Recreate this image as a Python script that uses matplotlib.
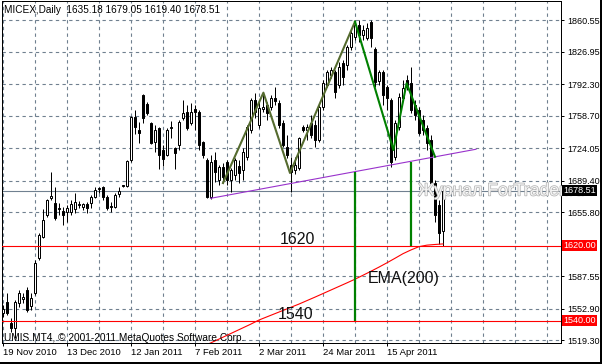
import matplotlib
matplotlib.use("Agg")
import matplotlib.pyplot as plt
import matplotlib.transforms as mtransforms
import matplotlib.patheffects as pe
from matplotlib.patches import Rectangle

plt.rcParams['font.family'] = ['Liberation Sans', 'DejaVu Sans']

# MICEX daily candles, bar 0 = 19 Nov 2010, last bar = 110
opens = [1548.2, 1560.0, 1537.6, 1532.3, 1558.9, 1563.2, 1572.8, 1555.7, 1569.6, 1606.9,
         1629.3, 1652.7, 1670.8, 1665.5, 1659.1, 1657.0, 1655.9, 1655.9, 1659.1, 1663.4,
         1661.2, 1664.4, 1665.5, 1671.9, 1680.4, 1682.6, 1671.9, 1662.3, 1661.2, 1675.1,
         1683.6, 1683.6, 1711.3, 1757.2, 1743.3, 1780.6, 1771.0, 1750.8, 1730.5, 1745.5,
         1722.0, 1716.7, 1745.5, 1724.1, 1727.3, 1756.1, 1762.5, 1750.8, 1765.7, 1762.5,
         1730.5, 1711.3, 1671.9, 1711.3, 1690.0, 1703.9, 1709.2, 1690.0, 1695.3, 1704.9,
         1700.7, 1714.5, 1743.3, 1775.3, 1748.6, 1765.7, 1770.0, 1767.8, 1777.4, 1772.1,
         1750.8, 1725.2, 1706.0, 1700.7, 1702.8, 1746.5, 1743.3, 1750.8, 1748.6, 1732.7,
         1767.8, 1791.3, 1801.9, 1805.1, 1791.3, 1814.7, 1812.6, 1831.8, 1842.5, 1855.3,
         1844.6, 1841.4, 1858.5, 1829.7, 1795.6, 1805.1, 1789.2, 1775.3, 1714.5, 1746.5,
         1777.4, 1796.6, 1793.4, 1770.0, 1764.6, 1754.0, 1745.5, 1732.7, 1686.8, 1663.4,
         1635.18]
highs = [1556.8, 1569.6, 1542.9, 1562.1, 1572.8, 1569.6, 1576.0, 1569.6, 1604.7, 1633.5,
         1659.1, 1669.8, 1698.5, 1682.6, 1665.5, 1661.2, 1663.4, 1668.7, 1676.2, 1667.6,
         1665.5, 1666.6, 1674.0, 1682.6, 1682.6, 1683.6, 1674.0, 1666.6, 1676.2, 1682.6,
         1684.7, 1711.3, 1758.2, 1764.6, 1751.8, 1781.7, 1773.2, 1751.8, 1748.6, 1746.5,
         1727.3, 1745.5, 1752.9, 1725.2, 1754.0, 1775.3, 1770.0, 1772.1, 1770.0, 1764.6,
         1731.6, 1713.5, 1716.7, 1719.9, 1706.0, 1708.1, 1711.3, 1702.8, 1713.5, 1711.3,
         1724.1, 1748.6, 1777.4, 1782.8, 1775.3, 1783.8, 1773.2, 1780.6, 1789.2, 1775.3,
         1754.0, 1738.0, 1714.5, 1714.5, 1735.9, 1748.6, 1749.7, 1759.3, 1754.0, 1770.0,
         1796.6, 1807.3, 1810.5, 1807.3, 1815.8, 1817.9, 1833.9, 1849.9, 1859.5, 1860.6,
         1855.3, 1857.4, 1860.6, 1831.8, 1807.3, 1807.3, 1791.3, 1777.4, 1754.0, 1782.8,
         1796.6, 1801.9, 1810.5, 1775.3, 1767.8, 1759.3, 1748.6, 1738.0, 1690.0, 1668.7,
         1679.05]
lows = [1544.0, 1546.1, 1528.0, 1521.6, 1554.6, 1558.9, 1549.3, 1551.4, 1567.4, 1604.7,
        1628.2, 1650.6, 1668.7, 1647.4, 1652.7, 1642.1, 1645.2, 1652.7, 1654.9, 1660.2,
        1658.0, 1654.9, 1660.2, 1670.8, 1676.2, 1668.7, 1658.0, 1655.9, 1660.2, 1671.9,
        1682.6, 1682.6, 1709.2, 1739.1, 1729.5, 1750.8, 1759.3, 1728.4, 1719.9, 1701.7,
        1704.9, 1715.6, 1734.8, 1701.7, 1722.0, 1754.0, 1743.3, 1748.6, 1743.3, 1722.0,
        1713.5, 1670.8, 1669.8, 1687.9, 1684.7, 1686.8, 1684.7, 1677.2, 1690.0, 1686.8,
        1690.0, 1711.3, 1740.1, 1756.1, 1745.5, 1762.5, 1754.0, 1764.6, 1770.0, 1745.5,
        1725.2, 1713.5, 1677.2, 1696.4, 1700.7, 1741.2, 1732.7, 1734.8, 1725.2, 1730.5,
        1764.6, 1789.2, 1798.8, 1777.4, 1788.1, 1791.3, 1807.3, 1828.6, 1839.3, 1837.1,
        1839.3, 1839.3, 1831.8, 1789.2, 1791.3, 1770.0, 1764.6, 1703.9, 1711.3, 1743.3,
        1775.3, 1786.0, 1761.4, 1754.0, 1738.0, 1738.0, 1722.0, 1684.7, 1645.2, 1621.8,
        1619.40]
closes = [1552.5, 1548.2, 1532.3, 1560.0, 1569.6, 1565.3, 1551.4, 1564.2, 1601.5, 1631.4,
          1647.4, 1668.7, 1673.0, 1649.5, 1660.2, 1652.7, 1660.2, 1664.4, 1666.6, 1664.4,
          1664.4, 1660.2, 1671.9, 1679.4, 1681.5, 1671.9, 1660.2, 1661.2, 1674.0, 1678.3,
          1684.2, 1710.3, 1757.2, 1746.5, 1740.1, 1756.1, 1761.4, 1729.5, 1743.3, 1716.7,
          1712.4, 1743.3, 1746.5, 1718.8, 1751.8, 1761.4, 1745.5, 1762.5, 1762.5, 1727.3,
          1716.7, 1671.9, 1709.2, 1698.5, 1703.9, 1693.2, 1690.0, 1700.7, 1711.3, 1697.5,
          1719.9, 1746.5, 1775.3, 1762.5, 1766.8, 1767.8, 1761.4, 1777.4, 1774.2, 1748.6,
          1727.3, 1716.7, 1698.5, 1706.0, 1734.8, 1743.3, 1746.5, 1738.0, 1732.7, 1767.8,
          1793.4, 1805.1, 1807.3, 1783.8, 1810.5, 1799.8, 1831.8, 1846.7, 1855.3, 1844.6,
          1849.9, 1852.0, 1841.4, 1794.5, 1805.1, 1780.6, 1777.4, 1709.2, 1750.8, 1778.5,
          1788.1, 1789.2, 1764.6, 1759.3, 1740.1, 1743.3, 1729.5, 1686.8, 1652.7, 1633.5,
          1678.51]

# EMA(200), read every 2nd bar
ema_bars = [50, 52, 54, 56, 58, 60, 62, 64, 66, 68, 70, 72, 74, 76, 78, 80,
            82, 84, 86, 88, 90, 92, 94, 96, 98, 100, 102, 104, 106, 108, 110]
ema_vals = [1513.0, 1516.5, 1520.5, 1524.5, 1528.5, 1532.5, 1536.5, 1540.8, 1544.2,
            1547.6, 1551.0, 1554.4, 1557.8, 1561.5, 1565.2, 1569.0, 1572.8, 1576.6,
            1580.4, 1584.3, 1588.5, 1592.8, 1597.2, 1601.8, 1606.6, 1611.5, 1615.5,
            1619.0, 1620.6, 1621.3, 1621.9]

# zigzags, trend line, verticals
olive_x = [55, 65.1, 71.75, 88]
olive_y = [1686.8, 1783.1, 1697.5, 1858.8]
green_x = [88, 97.6, 100.9, 108]
green_y = [1858.8, 1722.0, 1793.1, 1714.8]
trend_x = [51.9, 118.25]
trend_y = [1670.5, 1722.8]
vert_x = [88, 102]
vert_top = [1698.5, 1709.2]
vert_bot = [1540.0, 1620.0]

levels = [1620.0, 1540.0]
last_price = 1678.51

ytick_vals = [1860.55, 1826.95, 1792.30, 1758.70, 1724.05, 1689.40, 1655.80,
              1587.55, 1552.90, 1519.30]
date_pos = [0, 16, 32, 48, 64, 80, 96]
date_labels = ["19 Nov 2010", "13 Dec 2010", "12 Jan 2011", "7 Feb 2011",
               "2 Mar 2011", "24 Mar 2011", "15 Apr 2011"]

W, H = 602, 364
fig = plt.figure(figsize=(W / 100, H / 100), dpi=100)
fig.patch.set_facecolor('white')
ax = fig.add_axes([2 / W, 21 / H, 559 / W, 342 / H])
ax.set_xlim(-0.25, 139.5)
ax.set_ylim(1516.3, 1880.8)

gridc = '#708090'
ax.set_xticks(date_pos)
ax.set_xticks(range(0, 140, 8), minor=True)
ax.set_xticklabels(date_labels)
for lab in ax.get_xticklabels():
    lab.set_ha('left')
ax.tick_params(axis='x', which='major', direction='out', length=2.2, width=0.72,
               labelsize=6.8, pad=1.5)
ax.tick_params(axis='x', which='minor', length=0)
ax.yaxis.tick_right()
ax.set_yticks(ytick_vals)
ax.set_yticklabels(["%.2f" % v for v in ytick_vals])
ax.tick_params(axis='y', direction='out', length=2.2, width=0.72, labelsize=6.5, pad=2)
ax.grid(True, which='both', color=gridc, linestyle=(0, (3, 3)), linewidth=0.8)
ax.set_axisbelow(True)
for s in ax.spines.values():
    s.set_linewidth(0.72)
    s.set_color('black')

ax.axhline(last_price, color=gridc, lw=0.8, zorder=1)

# candles
idx = list(range(len(opens)))
ax.vlines(idx, lows, highs, color='black', lw=0.72, zorder=3)
for i in idx:
    o, c = opens[i], closes[i]
    fc = 'white' if c >= o else 'black'
    h = max(abs(c - o), 0.6)
    ax.bar(i, h, bottom=min(o, c), width=0.55, facecolor=fc, edgecolor='black',
           linewidth=0.72, zorder=4)

ax.plot(ema_bars, ema_vals, color='red', lw=0.8, zorder=5)
for lv in levels:
    ax.axhline(lv, color='red', lw=0.8, zorder=5)

ax.plot(trend_x, trend_y, color='#9932CC', lw=0.8, zorder=5)
ax.plot(olive_x, olive_y, color='#556B2F', lw=1.5, zorder=6)
ax.plot(green_x, green_y, color='#008000', lw=1.5, zorder=6)
ax.vlines(vert_x, vert_bot, vert_top, color='#008000', lw=1.6, zorder=6)

ax.text(69.25, 1621.5, "1620", fontsize=11.5, color='#111111', zorder=7)
ax.text(68.75, 1541.5, "1540", fontsize=11.5, color='#111111', zorder=7)
ax.text(91.25, 1580.5, "EMA(200)", fontsize=11.5, color='#111111', zorder=7)

ax.text(103.75, 1673.5, "Журнал ForTrader.ru", fontsize=12.7, color='#f4f4f4',
        zorder=8, clip_on=False,
        path_effects=[pe.withStroke(linewidth=1.0, foreground='#b0b0b0')])

# price labels on the right axis
tr = mtransforms.blended_transform_factory(ax.transAxes, ax.transData)
for val, bg in [(last_price, 'black'), (1620.0, 'red'), (1540.0, 'red')]:
    ax.text(1.004, val, "%.2f" % val, transform=tr, fontsize=6.5, color='white',
            va='center', ha='left', zorder=10, clip_on=False,
            bbox=dict(facecolor=bg, edgecolor='none', pad=0.8))

fig.text(4 / W, 1 - 13 / H, "MICEX,Daily  1635.18 1679.05 1619.40 1678.51",
         fontsize=7.2, va='baseline')
fig.text(4 / W, 1 - 341 / H, "UMIS MT4, © 2001-2011 MetaQuotes Software Corp.",
         fontsize=7.3, va='baseline')

fig.patches.append(Rectangle((600 / W, 0), 2 / W, 1, transform=fig.transFigure,
                             facecolor='black', edgecolor='none', zorder=20))
fig.patches.append(Rectangle((0, 0), 1, 2 / H, transform=fig.transFigure,
                             facecolor='black', edgecolor='none', zorder=20))

fig.savefig("out.png", dpi=100)
